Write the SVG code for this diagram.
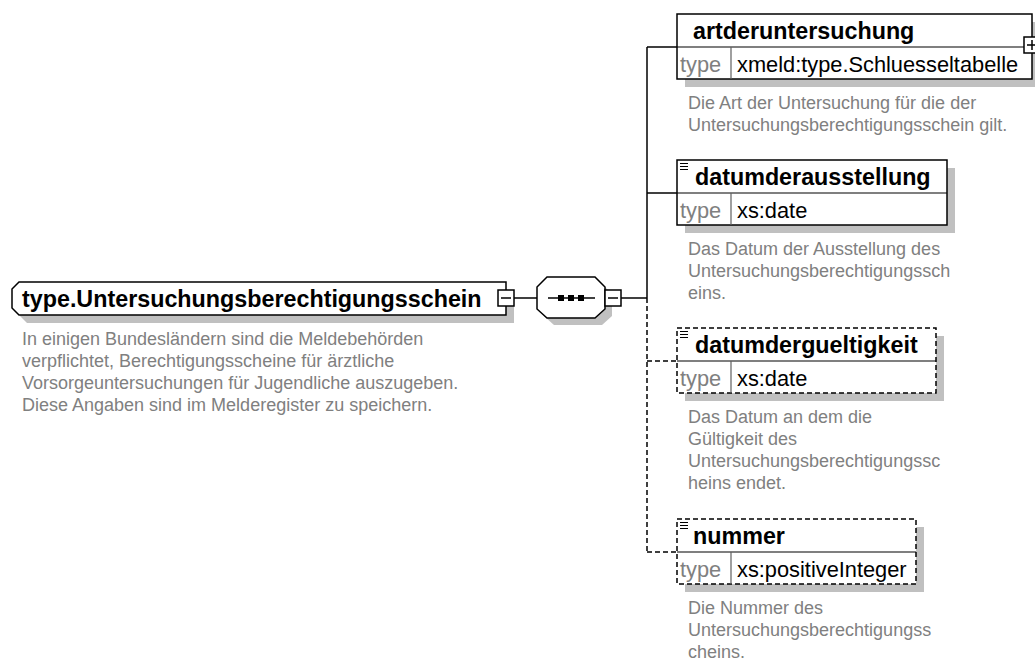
<svg xmlns="http://www.w3.org/2000/svg" width="1035" height="660" viewBox="0 0 1035 660">
<style>
.bg{fill:#ffffff}
.shadow{fill:#c0c0c0;stroke:none}
.box{fill:#ffffff;stroke:#000000;stroke-width:1.5}
.opt{fill:#ffffff;stroke:#000000;stroke-width:1.5;stroke-dasharray:5 3}
.div{stroke:#000000;stroke-width:1.2;fill:none}
.sep{stroke:#606060;stroke-width:1.2;fill:none}
.ln{stroke:#000000;stroke-width:1.5;fill:none}
.dash{stroke:#000000;stroke-width:1.5;fill:none;stroke-dasharray:5 3}
.icon{stroke:#000000;stroke-width:1;fill:none}
.name{font-family:"Liberation Sans",Arial,sans-serif;font-weight:bold;font-size:23.3px;fill:#000000}
.tlab{font-family:"Liberation Sans",Arial,sans-serif;font-size:21.8px;fill:#808080}
.tval{font-family:"Liberation Sans",Arial,sans-serif;font-size:21.8px;fill:#000000}
.desc{font-family:"Liberation Sans",Arial,sans-serif;font-size:18px;fill:#808080}
</style>
<rect class="bg" x="0" y="0" width="1035" height="660"/>

<g id="connectors">
  <path class="ln" d="M514,298 H537"/>
  <path class="ln" d="M621,298 H647"/>
  <path class="ln" d="M647,47 V298"/>
  <path class="ln" d="M647,47 H677"/>
  <path class="ln" d="M647,193 H677"/>
  <path class="dash" d="M647,298 V552"/>
  <path class="dash" d="M647,361 H677"/>
  <path class="dash" d="M647,552 H677"/>
</g>

<g id="node-main">
  <path class="shadow" d="M27,290 H514 V323 H27 L20,316 V297 Z"/>
  <path class="box" d="M19,282 H506 V315 H19 L12,308 V289 Z"/>
  <text class="name" x="22" y="307">type.Untersuchungsberechtigungsschein</text>
  <rect class="box" x="498" y="290" width="16" height="16"/>
  <path class="ln" d="M501,298 H511"/>
  <text class="desc" x="22" y="345">In einigen Bundesländern sind die Meldebehörden</text>
  <text class="desc" x="22" y="367">verpflichtet, Berechtigungsscheine für ärztliche</text>
  <text class="desc" x="22" y="389">Vorsorgeuntersuchungen für Jugendliche auszugeben.</text>
  <text class="desc" x="22" y="411">Diese Angaben sind im Melderegister zu speichern.</text>
</g>

<g id="node-sequence">
  <polygon class="shadow" points="554,284 602,284 612,294 612,316 602,325 554,325 544,316 544,294"/>
  <polygon class="box" points="547,277 595,277 605,287 605,309 595,318 547,318 537,309 537,287"/>
  <path class="ln" d="M548,298 H595"/>
  <rect x="558" y="295" width="6" height="6" fill="#000000"/>
  <rect x="568" y="295" width="6" height="6" fill="#000000"/>
  <rect x="578" y="295" width="6" height="6" fill="#000000"/>
  <rect class="box" x="605" y="290" width="16" height="16"/>
  <path class="ln" d="M608,298 H618"/>
</g>

<g id="node-artderuntersuchung">
  <rect class="shadow" x="685" y="22" width="355" height="65"/>
  <rect class="box" x="677" y="14" width="355" height="65"/>
  <path class="div" d="M677,47 H1032"/>
  <path class="sep" d="M731,47 V79"/>
  <text class="name" x="693" y="39">artderuntersuchung</text>
  <text class="tlab" x="680" y="72">type</text>
  <text class="tval" x="737" y="72">xmeld:type.Schluesseltabelle</text>
  <rect class="box" x="1024" y="37" width="16" height="16"/>
  <path class="ln" d="M1027,45 H1037 M1032,40 V50"/>
  <text class="desc" x="688" y="109">Die Art der Untersuchung für die der</text>
  <text class="desc" x="688" y="131">Untersuchungsberechtigungsschein gilt.</text>
</g>

<g id="node-datumderausstellung">
  <rect class="shadow" x="685" y="168" width="270" height="65"/>
  <rect class="box" x="677" y="160" width="270" height="65"/>
  <path class="div" d="M677,193 H947"/>
  <path class="sep" d="M731,193 V225"/>
  <path class="icon" d="M680,163.5 H688 M680,166.5 H688 M680,169.5 H688"/>
  <text class="name" x="695" y="185">datumderausstellung</text>
  <text class="tlab" x="680" y="218">type</text>
  <text class="tval" x="737" y="218">xs:date</text>
  <text class="desc" x="688" y="255">Das Datum der Ausstellung des</text>
  <text class="desc" x="688" y="277">Untersuchungsberechtigungssch</text>
  <text class="desc" x="688" y="299">eins.</text>
</g>

<g id="node-datumdergueltigkeit">
  <rect class="shadow" x="685" y="336" width="259" height="65"/>
  <rect class="opt" x="677" y="328" width="259" height="65"/>
  <path class="div" d="M677,361 H936"/>
  <path class="sep" d="M731,361 V393"/>
  <path class="icon" d="M680,331.5 H688 M680,334.5 H688 M680,337.5 H688"/>
  <text class="name" x="695" y="353">datumdergueltigkeit</text>
  <text class="tlab" x="680" y="386">type</text>
  <text class="tval" x="737" y="386">xs:date</text>
  <text class="desc" x="688" y="423">Das Datum an dem die</text>
  <text class="desc" x="688" y="445">Gültigkeit des</text>
  <text class="desc" x="688" y="467">Untersuchungsberechtigungssc</text>
  <text class="desc" x="688" y="489">heins endet.</text>
</g>

<g id="node-nummer">
  <rect class="shadow" x="685" y="527" width="239" height="65"/>
  <rect class="opt" x="677" y="519" width="239" height="65"/>
  <path class="div" d="M677,552 H916"/>
  <path class="sep" d="M731,552 V584"/>
  <path class="icon" d="M680,522.5 H688 M680,525.5 H688 M680,528.5 H688"/>
  <text class="name" x="693" y="544">nummer</text>
  <text class="tlab" x="680" y="577">type</text>
  <text class="tval" x="737" y="577">xs:positiveInteger</text>
  <text class="desc" x="688" y="614">Die Nummer des</text>
  <text class="desc" x="688" y="636">Untersuchungsberechtigungss</text>
  <text class="desc" x="688" y="658">cheins.</text>
</g>
</svg>
